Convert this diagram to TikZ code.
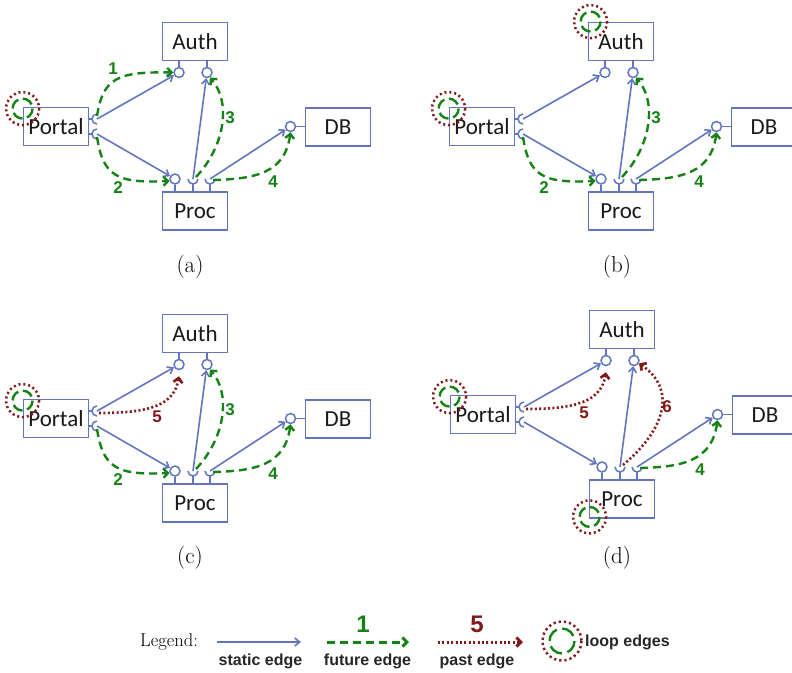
\documentclass[tikz,border=0pt]{standalone}
\usepackage{fontspec}
\usetikzlibrary{arrows.meta}
\newfontfamily\boxfamily{Carlito}
\newfontfamily\tagfamily{Liberation Sans}
\definecolor{edgeblue}{RGB}{98,118,190}
\definecolor{futgreen}{RGB}{20,130,20}
\definecolor{pastred}{RGB}{130,25,25}

\tikzset{
  compbox/.style={draw=edgeblue, line width=1.8pt, fill=white, minimum width=65pt,
    minimum height=38pt, inner sep=0pt, text=black!90,
    font=\boxfamily\fontsize{23pt}{26pt}\selectfont},
  lolli/.style={circle, draw=edgeblue, line width=1.5pt, minimum size=10pt, inner sep=0pt, fill=white},
  stem/.style={draw=edgeblue, line width=1.5pt},
  staticedge/.style={draw=edgeblue, line width=1.6pt,
    -{Straight Barb[length=5pt,width=8pt]}},
  futureedge/.style={draw=futgreen, line width=2.4pt, dash pattern=on 8pt off 5pt,
    -{Straight Barb[length=4.5pt,width=9pt]}},
  pastedge/.style={draw=pastred, line width=2.6pt, dash pattern=on 2pt off 2.4pt,
    -{Straight Barb[length=4.5pt,width=9pt]}},
  edgetag/.style={font=\tagfamily\bfseries\fontsize{17pt}{20pt}\selectfont, inner sep=0pt},
  legtag/.style={font=\tagfamily\bfseries\fontsize{16pt}{19pt}\selectfont, inner sep=0pt, text=black!85},
  bigtag/.style={font=\tagfamily\bfseries\fontsize{24pt}{28pt}\selectfont, inner sep=0pt},
  looppast/.style={draw=pastred, line width=2.5pt, dash pattern=on 2pt off 2.9pt},
  loopfuture/.style={draw=futgreen, line width=2.4pt, dash pattern=on 11pt off 4.7pt},
  caption/.style={font=\fontsize{23pt}{27pt}\selectfont, inner sep=0pt},
}

% components, ports and static wiring of one snapshot
\newcommand\basepanel[1]{%
  \node[compbox] (#1-auth)   at (195,41.5) {Auth};
  \node[compbox] (#1-portal) at (56,126.5)  {Portal};
  \node[compbox] (#1-db)     at (338,127)   {DB};
  \node[compbox] (#1-proc)   at (195,211)   {Proc};
  % provided interfaces (lollipops)
  \node[lolli] (#1-a1) at (179,72.5) {};
  \node[lolli] (#1-a2) at (207,72.5) {};
  \node[lolli] (#1-d1) at (290.5,126.5) {};
  \node[lolli] (#1-p0) at (175,179) {};
  \draw[stem] (#1-a1.north) -- (#1-a1 |- #1-auth.south);
  \draw[stem] (#1-a2.north) -- (#1-a2 |- #1-auth.south);
  \draw[stem] (#1-d1.east) -- (#1-d1 -| #1-db.west);
  \draw[stem] (#1-p0.south) -- (#1-p0 |- #1-proc.north);
  % required interfaces (sockets)
  \coordinate (#1-p1) at (193,179);
  \coordinate (#1-p2) at (210,179);
  \coordinate (#1-s1) at (97,119);
  \coordinate (#1-s2) at (97,134);
  \foreach \s in {p1,p2}{
    \draw[stem] ([xshift=-5pt]#1-\s) arc[start angle=180, end angle=360, radius=5pt];
    \draw[stem] ([yshift=-5pt]#1-\s) -- (#1-\s |- #1-proc.north);
  }
  \foreach \s in {s1,s2}{
    \draw[stem] ([yshift=5pt]#1-\s) arc[start angle=90, end angle=270, radius=5pt];
    \draw[stem] ([xshift=-5pt]#1-\s) -- (#1-\s -| #1-portal.east);
  }
  % static edges
  \draw[staticedge] (#1-s1) -- (#1-a1);
  \draw[staticedge] (#1-s2) -- (#1-p0);
  \draw[staticedge] (#1-p1) -- (#1-a2);
  \draw[staticedge] (#1-p2) -- (#1-d1);
}
\newcommand\edgeone[1]{%
  \draw[futureedge] ([yshift=3pt]#1-s1) .. controls +(6,-38) and +(-56,-1) .. (#1-a1.west);
  \node[edgetag, text=futgreen] (#1-t1) at (113,69) {1};}
\newcommand\edgetwo[1]{%
  \draw[futureedge] ([yshift=-3pt]#1-s2) .. controls +(6,39) and +(-53,2.5) .. (#1-p0.200);
  \node[edgetag, text=futgreen] (#1-t2) at (118,188) {2};}
\newcommand\edgethree[1]{%
  \draw[futureedge] ([shift={(3pt,2pt)}]#1-p1) .. controls +(30,-32) and +(20.75,23.6) .. (#1-a2.300);
  \node[edgetag, text=futgreen] (#1-t3) at (230,118) {3};}
\newcommand\edgefour[1]{%
  \draw[futureedge] ([shift={(3pt,-1pt)}]#1-p2) .. controls +(42,-1) and +(-5.5,41) .. (#1-d1.south);
  \node[edgetag, text=futgreen] (#1-t4) at (273,182) {4};}
\newcommand\edgefive[1]{%
  \draw[pastedge] ([shift={(2pt,-2pt)}]#1-s1) .. controls +(51,0) and +(-5,29) .. ([yshift=-6pt]#1-a1.south);
  \node[edgetag, text=pastred] (#1-t5) at (157,125) {5};}
\newcommand\edgesix[1]{%
  \draw[pastedge] ([shift={(3pt,2pt)}]#1-p1) .. controls +(44,-37) and +(37,25) .. (#1-a2.330);
  \node[edgetag, text=pastred] (#1-t6) at (240,119) {6};}
\newcommand\loopmark[1]{%
  \draw[looppast] (#1) circle[radius=16.5];
  \draw[loopfuture] (#1) circle[radius=10];}

\begin{document}
\begin{tikzpicture}[x=1pt, y=-1pt]
\useasboundingbox (0,0) rectangle (792,672);

% (a)
\begin{scope}
  \basepanel{pa}
  \edgeone{pa}\edgetwo{pa}\edgethree{pa}\edgefour{pa}
  \loopmark{[shift={(0pt,-2pt)}]pa-portal.north west}
  \node[caption] (cap-a) at (190,267) {(a)};
\end{scope}

% (b)
\begin{scope}[shift={(426,0)}]
  \basepanel{pb}
  \edgetwo{pb}\edgethree{pb}\edgefour{pb}
  \loopmark{[shift={(0pt,-2pt)}]pb-portal.north west}
  \loopmark{[shift={(3pt,0pt)}]pb-auth.north west}
  \node[caption] (cap-b) at (191,267) {(b)};
\end{scope}

% (c)
\begin{scope}[shift={(0,292)}]
  \basepanel{pc}
  \edgefive{pc}\edgetwo{pc}\edgethree{pc}\edgefour{pc}
  \loopmark{[shift={(0pt,-2pt)}]pc-portal.north west}
  \node[caption] (cap-c) at (190,266) {(c)};
\end{scope}

% (d)
\begin{scope}[shift={(427,288)}]
  \basepanel{pd}
  \edgefive{pd}\edgesix{pd}\edgefour{pd}
  \loopmark{[shift={(0pt,-2pt)}]pd-portal.north west}
  \loopmark{[shift={(1pt,2pt)}]pd-proc.south west}
  \node[caption] (cap-d) at (190,270) {(d)};
\end{scope}

% legend
\node[font=\fontsize{18.5pt}{22pt}\selectfont, inner sep=0pt, anchor=base west] (leg-title) at (140,646) {Legend:};
\coordinate (ls-a) at (217,642); \coordinate (ls-b) at (301,642);
\draw[staticedge] (ls-a) -- (ls-b);
\node[legtag, anchor=base] (ls-t) at (260.5,665) {static edge};
\coordinate (lf-a) at (327,642); \coordinate (lf-b) at (409,642);
\draw[futureedge, line width=3pt] (lf-a) -- (lf-b);
\node[bigtag, text=futgreen, anchor=base] (lf-n) at (363,632) {1};
\node[legtag, anchor=base] (lf-t) at (367.5,665) {future edge};
\coordinate (lp-a) at (438,642); \coordinate (lp-b) at (523,642);
\draw[pastedge, line width=3pt] (lp-a) -- (lp-b);
\node[bigtag, text=pastred, anchor=base] (lp-n) at (477,632) {5};
\node[legtag, anchor=base] (lp-t) at (477,665) {past edge};
\coordinate (ll-c) at (562,641);
\draw[looppast, dash pattern=on 2.2pt off 3pt] (ll-c) circle[radius=19.5];
\draw[loopfuture, dash pattern=on 14pt off 5.6pt] (ll-c) circle[radius=12.5];
\node[legtag, anchor=base west] (ll-t) at (585,646) {loop edges};
\end{tikzpicture}
\end{document}
